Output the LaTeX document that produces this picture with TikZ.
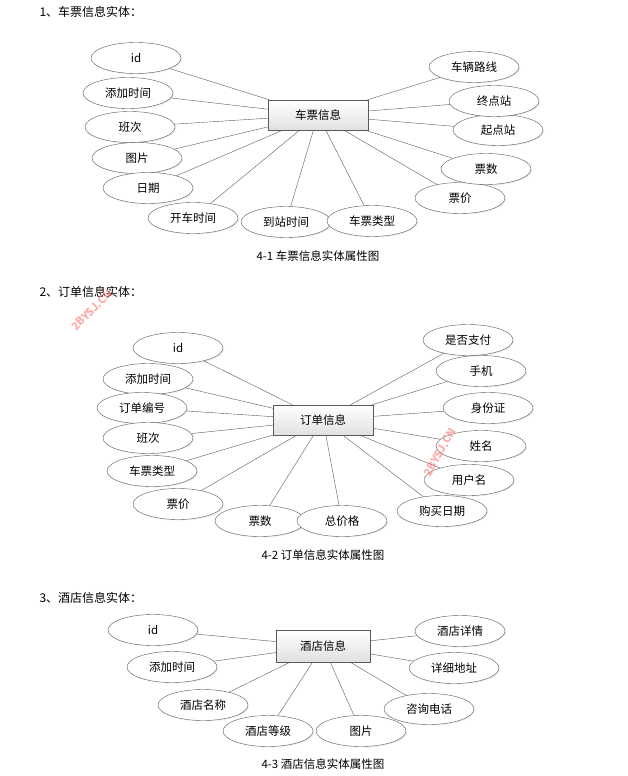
\documentclass[tikz,border=0pt]{standalone}
\usepackage{fontspec}
\setmainfont{Noto Sans CJK SC}
\usetikzlibrary{positioning,shapes.geometric,shadows}
\tikzstyle{page} = [x = 1pt, y = -1pt, every node/.style={font=\fontsize{11.5}{13}\selectfont}]
\definecolor{lineColor}{RGB}{90,90,90}
\tikzstyle{entityStyle} = [draw=lineColor, top color=white, bottom color=black!12, minimum width=100pt, minimum height=30pt, inner sep=0pt]
\tikzstyle{attrStyle} = [ellipse, draw=lineColor, fill=white, minimum width=90pt, minimum height=31pt, inner sep=0pt, drop shadow={opacity=.15, shadow xshift=1pt, shadow yshift=-1pt}]
\tikzstyle{linkLine} = [color=lineColor, thin]
\tikzstyle{headText} = [anchor=west, font=\fontsize{12}{14}\selectfont]
\tikzstyle{markText} = [text=red!55, opacity=.6, font=\bfseries\fontsize{11}{13}\selectfont]
\newcommand{\attrList}[2]{
  \foreach \attr/\x/\y/\txt in {#2} {
    \node [attrStyle] (\attr) at (\x,\y) {\txt};
    \draw [linkLine] (#1) -- (\attr);
  }
}

\begin{document}
\begin{tikzpicture}[page]
  \useasboundingbox (0,0) rectangle (628,776);

  % 车票
  \node [headText] (headA) at (36,12) {1、车票信息实体：};
  \node [entityStyle] (ticket) at (318,115) {车票信息};
  \attrList{ticket}{tId/136/58/id, tAdd/128/93/添加时间, tNum/130/127/班次, tPic/137/158/图片,
    tDate/148/188/日期, tStart/193/218/开车时间, tArrive/286/222/到站时间, tType/372/221/车票类型,
    tPrice/460/198/票价, tCount/486/169/票数, tFrom/498/130/起点站, tTo/494/101/终点站, tRoute/474/67/车辆路线}
  \node (capA) at (318,256) {4-1 车票信息实体属性图};

  % 订单
  \node [headText] (headB) at (36,292) {2、订单信息实体：};
  \node [entityStyle] (order) at (323,420) {订单信息};
  \attrList{order}{oId/178/348/id, oAdd/148/379/添加时间, oCode/142/408/订单编号, oNum/148/438/班次,
    oType/152/471/车票类型, oPrice/178/504/票价, oCount/260/521/票数, oTotal/342/521/总价格,
    oBuy/442/511/购买日期, oUser/469/480/用户名, oName/481/446/姓名, oCard/488/408/身份证,
    oPhone/481/371/手机, oPaid/468/340/是否支付}
  \node (capB) at (323,555) {4-2 订单信息实体属性图};
  \node [markText, rotate=45] (markA) at (92,310) {2BYSJ.CN};
  \node [markText, rotate=60] (markB) at (440,452) {2BYSJ.CN};

  % 酒店
  \node [headText] (headC) at (36,598) {3、酒店信息实体：};
  \node [entityStyle, minimum width=94pt, minimum height=32pt] (hotel) at (323,646) {酒店信息};
  \attrList{hotel}{hId/153/630/id, hAdd/172/667/添加时间, hName/203/705/酒店名称, hLevel/268/731/酒店等级,
    hPic/361/731/图片, hTel/429/709/咨询电话, hAddr/454/668/详细地址, hInfo/460/631/酒店详情}
  \node (capC) at (323,764) {4-3 酒店信息实体属性图};
\end{tikzpicture}
\end{document}
